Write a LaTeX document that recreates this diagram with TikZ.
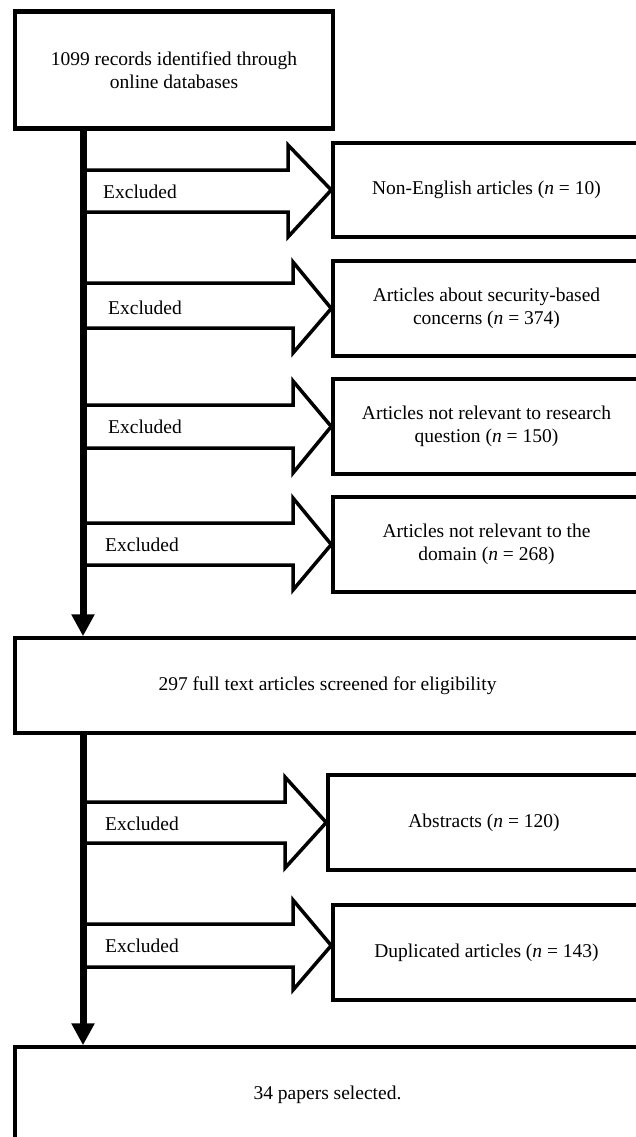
\documentclass[tikz,border=0pt]{standalone}
\usepackage{fontspec}
\setmainfont{Liberation Serif}
\usetikzlibrary{arrows.meta,calc}
\begin{document}
\begin{tikzpicture}[x=1pt,y=-1pt,
  txt/.style={font=\fontsize{19.5}{22.5}\selectfont, align=center},
  box/.style={draw, line width=3.5pt, rectangle, inner sep=0pt, txt},
  topbox/.style={box, line width=4.5pt},
  blockarrow/.style={draw, line width=3.5pt, line join=miter},
  mainline/.style={line width=7pt, -{Triangle[length=22pt,width=22pt]}},
  exlabel/.style={txt, anchor=west, inner sep=0pt}]
\useasboundingbox (0,0) rectangle (636,1137);
\clip (0,0) rectangle (636,1137);

\node[topbox, minimum width=318pt, minimum height=117pt] (top) at (174,70)
  {1099 records identified through\\online databases};
\node[box, minimum width=307pt, minimum height=94pt] (b1) at (486.5,190)
  {Non-English articles (\textit{n} = 10)};
\node[box, minimum width=307pt, minimum height=95pt] (b2) at (486.5,308.5)
  {Articles about security-based\\concerns (\textit{n} = 374)};
\node[box, minimum width=307pt, minimum height=95pt] (b3) at (486.5,426.5)
  {Articles not relevant to research\\question (\textit{n} = 150)};
\node[box, minimum width=307pt, minimum height=95pt] (b4) at (486.5,544.5)
  {Articles not relevant to the\\domain (\textit{n} = 268)};
\node[box, minimum width=625pt, minimum height=95pt] (s297) at (327.5,685.5)
  {297 full text articles screened for eligibility};
\node[box, minimum width=312pt, minimum height=95pt] (b5) at (484,822.5)
  {Abstracts (\textit{n} = 120)};
\node[box, minimum width=307pt, minimum height=95pt] (b6) at (486.5,952.5)
  {Duplicated articles (\textit{n} = 143)};
\node[box, minimum width=625pt, minimum height=96pt] (final) at (327.5,1095)
  {34 papers selected.};

\coordinate (vx) at (83,0);

% block arrows
\draw[blockarrow] (84,170) -- (288,170) -- (288,145) -- (b1.west) -- (288,237) -- (288,212) -- (84,212);
\draw[blockarrow] (84,283) -- (293,283) -- (293,262) -- (b2.west) -- (293,353) -- (293,328) -- (84,328);
\draw[blockarrow] (84,405) -- (293,405) -- (293,381) -- (b3.west) -- (293,473) -- (293,448) -- (84,448);
\draw[blockarrow] (84,523) -- (293,523) -- (293,498) -- (b4.west) -- (293,590) -- (293,565) -- (84,565);
\draw[blockarrow] (84,802) -- (285,802) -- (285,777) -- (b5.west) -- (285,868) -- (285,843) -- (84,843);
\draw[blockarrow] (84,924) -- (293,924) -- (293,900) -- ($(b6.west)+(0,-7)$) -- (293,990) -- (293,967) -- (84,967);

\node[exlabel] (e1) at (103,192) {Excluded};
\node[exlabel] (e2) at (108,308) {Excluded};
\node[exlabel] (e3) at (108,427) {Excluded};
\node[exlabel] (e4) at (105,545) {Excluded};
\node[exlabel] (e5) at (105,824) {Excluded};
\node[exlabel] (e6) at (105,946) {Excluded};

% main flow
\draw[mainline] (vx |- top.south) -- (vx |- s297.north);
\draw[mainline] (vx |- s297.south) -- (vx |- final.north);
\end{tikzpicture}
\end{document}
